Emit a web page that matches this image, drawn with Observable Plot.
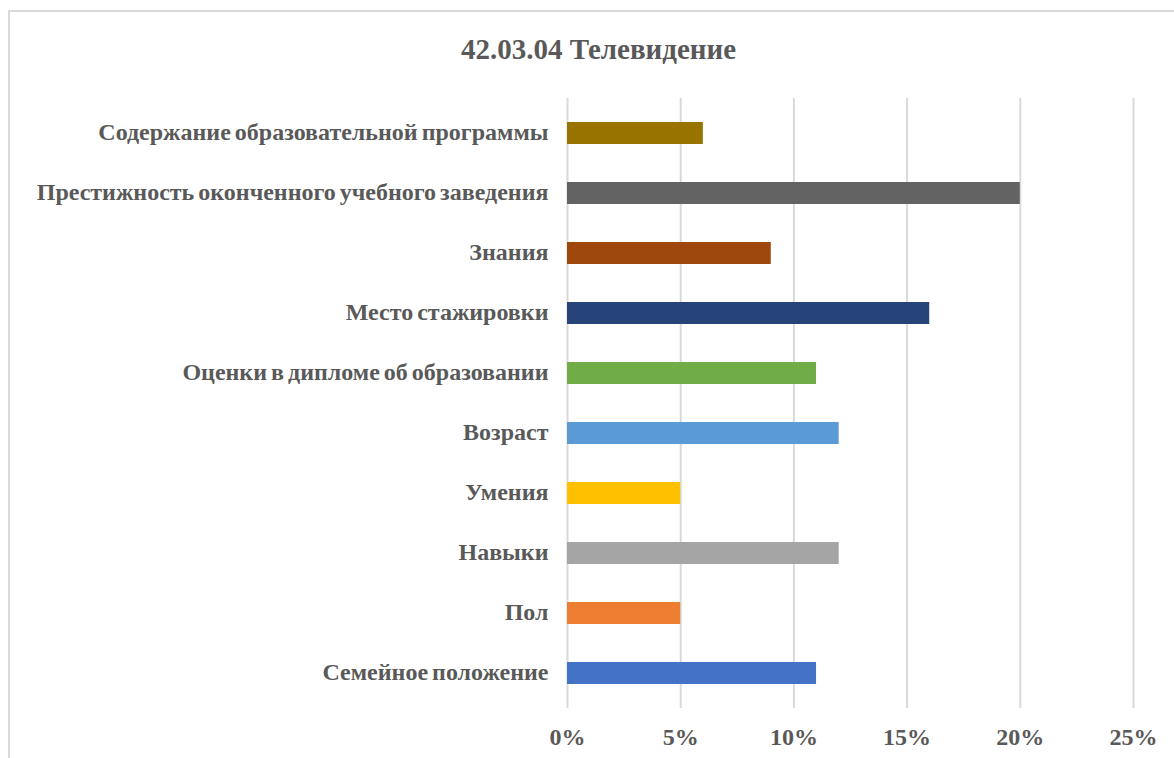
<!DOCTYPE html>
<html>
<head>
<meta charset="utf-8">
<script src="https://cdn.jsdelivr.net/npm/d3@7"></script>
<script src="https://cdn.jsdelivr.net/npm/@observablehq/plot@0.6"></script>
<style>
  html, body { margin: 0; padding: 0; background: #fff; overflow: hidden; width: 1174px; height: 758px; }
  #frame { position: absolute; left: 8px; top: 10px; width: 1300px; height: 900px; border: 2px solid #d9d9d9; box-sizing: border-box; }
  #title { position: absolute; left: 0; width: 1197px; top: 33px; line-height: 32px; text-align: center; font-family: "Liberation Serif", serif; font-weight: bold; font-size: 29px; color: #595959; }
  #chart { position: absolute; left: 0; top: 0; }
</style>
</head>
<body>
<div id="frame"></div>
<div id="title">42.03.04 Телевидение</div>
<div id="chart"></div>
<script>
const categories = [
  "Содержание образовательной программы",
  "Престижность оконченного учебного заведения",
  "Знания",
  "Место стажировки",
  "Оценки в дипломе об образовании",
  "Возраст",
  "Умения",
  "Навыки",
  "Пол",
  "Семейное положение"
];
const values = [0.06, 0.20, 0.09, 0.16, 0.11, 0.12, 0.05, 0.12, 0.05, 0.11];
const colors = ["#997300", "#636363", "#9E480E", "#264478", "#70AD47", "#5B9BD5", "#FFC000", "#A5A5A5", "#ED7D31", "#4472C4"];
const xTicks = [0, 0.05, 0.10, 0.15, 0.20, 0.25];

const data = categories.map((c, i) => ({category: c, value: values[i], color: colors[i]}));

const chart = Plot.plot({
  width: 1174,
  height: 758,
  marginLeft: 567,
  marginRight: 41,
  marginTop: 98,
  marginBottom: 50,
  style: {fontFamily: "'Liberation Serif', serif", fontWeight: "bold", fontSize: "24px", color: "#595959", background: "transparent", overflow: "visible", wordSpacing: "-2px"},
  x: {domain: [0, 0.25], ticks: xTicks, tickFormat: d => Math.round(d * 100) + "%", label: null},
  y: {domain: categories, paddingInner: 0.64, paddingOuter: 0.33, label: null},
  marks: [
    Plot.ruleX(xTicks, {stroke: "#d9d9d9", strokeWidth: 2}),
    Plot.barX(data, {y: "category", x: "value", fill: "color"}),
    Plot.axisX({ticks: xTicks, tickSize: 0, tickPadding: 19, tickFormat: d => Math.round(d * 100) + "%", fill: "#595959", label: null}),
    Plot.axisY({tickSize: 0, tickPadding: 19, dy: -1, fill: "#595959", label: null})
  ]
});
document.getElementById("chart").appendChild(chart);
</script>
</body>
</html>
